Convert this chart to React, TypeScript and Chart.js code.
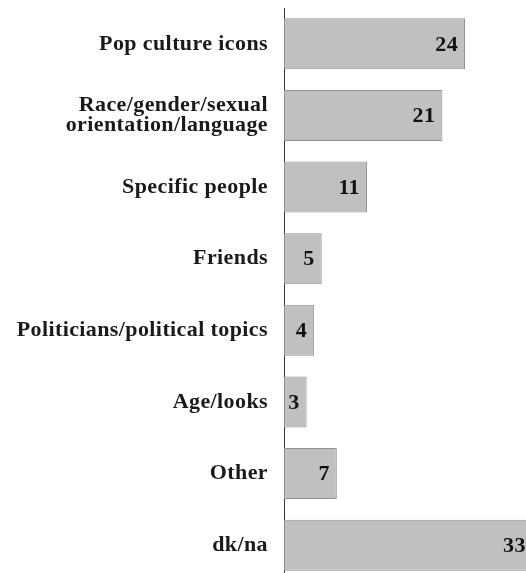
import React, { useEffect, useRef } from "react";
import { Chart, registerables } from "chart.js";

Chart.register(...registerables);

const categories: (string | string[])[] = [
  "Pop culture icons",
  ["Race/gender/sexual", "orientation/language"],
  "Specific people",
  "Friends",
  "Politicians/political topics",
  "Age/looks",
  "Other",
  "dk/na",
];
const values: number[] = [24, 21, 11, 5, 4, 3, 7, 33];

const FONT_FAMILY = "'Liberation Serif', 'Times New Roman', serif";

const valueLabels = {
  id: "valueLabels",
  beforeDraw(chart: any) {
    chart.ctx.letterSpacing = "0.4px";
  },
  afterDatasetsDraw(chart: any) {
    const ctx = chart.ctx;
    const meta = chart.getDatasetMeta(0);
    ctx.save();
    ctx.font = `bold 22px ${FONT_FAMILY}`;
    ctx.fillStyle = "#111111";
    ctx.textAlign = "right";
    ctx.textBaseline = "middle";
    meta.data.forEach((bar: any, i: number) => {
      ctx.fillText(String(values[i]), bar.x - 7, bar.y + 1);
    });
    ctx.restore();
  },
};

export default function App() {
  const ref = useRef<HTMLCanvasElement | null>(null);
  useEffect(() => {
    if (!ref.current) return;
    const chart = new Chart(ref.current, {
      type: "bar",
      data: {
        labels: categories,
        datasets: [
          {
            data: values,
            backgroundColor: "#c0c0c0",
            borderColor: "#909090",
            borderWidth: 1,
            borderSkipped: false,
            barPercentage: 0.712,
            categoryPercentage: 1,
          },
        ],
      },
      options: {
        indexAxis: "y",
        responsive: false,
        animation: false,
        devicePixelRatio: 1,
        layout: { padding: { top: 8, bottom: 0, left: 0, right: 0 } },
        plugins: {
          legend: { display: false },
          tooltip: { enabled: false },
        },
        scales: {
          x: {
            display: false,
            min: 0,
            max: 35,
          },
          y: {
            afterFit: (scale: any) => {
              scale.width = 284;
              scale.paddingTop = 0;
              scale.paddingBottom = 0;
            },
            grid: { display: false, drawTicks: false },
            border: { display: true, color: "#333333", width: 1 },
            ticks: {
              padding: 16,
              color: "#1a1a1a",
              font: { family: FONT_FAMILY, size: 22, weight: "bold", lineHeight: 0.92 },
            },
          },
        },
      },
      plugins: [valueLabels],
    });
    return () => chart.destroy();
  }, []);
  return (
    <div
      style={{
        position: "fixed",
        left: 0,
        top: 0,
        width: 526,
        height: 573,
        overflow: "hidden",
        background: "#ffffff",
      }}
    >
      <canvas ref={ref} width={548} height={581} style={{ display: "block" }} />
    </div>
  );
}
